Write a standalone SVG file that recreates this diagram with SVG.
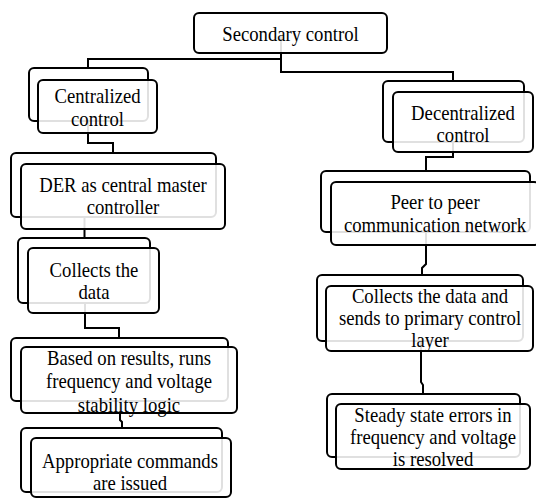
<svg xmlns="http://www.w3.org/2000/svg" width="536" height="499" viewBox="0 0 536 499">
<style>
.bk{fill:#fff;stroke:#000;stroke-width:2}
.fr{fill:#fff;fill-opacity:0.88;stroke:#000;stroke-width:2}
.c{fill:none;stroke:#000;stroke-width:2}
.t{font-family:'Liberation Serif','Times New Roman',serif;font-size:22px;fill:#000;text-anchor:middle}
</style>
<rect width="536" height="499" fill="#fff"/>
<g id="connectors">
<path class="c" d="M281,36 V72 H453 V96"/>
<path class="c" d="M281,59 H88 V80"/>
<path class="c" d="M88,120 V143 H113 V165"/>
<path class="c" d="M84.5,216 V250"/>
<path class="c" d="M85,300 V328 H119 V350"/>
<path class="c" d="M120,400 V420 L122,422 V440"/>
<path class="c" d="M453,138 V157 H426 V183"/>
<path class="c" d="M426,232 V264 L422,268 V288"/>
<path class="c" d="M421,340 V382 L423,385 V406"/>
</g>
<g id="secondary">
<rect class="fr" x="194" y="13" width="193" height="40" rx="5"/>
<text class="t" transform="translate(290.5,41) scale(0.85,1)">Secondary control</text>
</g>
<g id="centralized">
<rect class="bk" x="29" y="68" width="119" height="53" rx="5"/>
<rect class="fr" x="38" y="80" width="119" height="53" rx="5"/>
<text class="t" transform="translate(97.5,103) scale(0.85,1)"><tspan x="0">Centralized</tspan><tspan x="0" dy="23">control</tspan></text>
</g>
<g id="decentralized">
<rect class="bk" x="383" y="81" width="141" height="61" rx="5"/>
<rect class="fr" x="393" y="92" width="140" height="60" rx="5"/>
<text class="t" transform="translate(463,120) scale(0.85,1)"><tspan x="0">Decentralized</tspan><tspan x="0" dy="22">control</tspan></text>
</g>
<g id="der">
<rect class="bk" x="11" y="153" width="205" height="64" rx="5"/>
<rect class="fr" x="21" y="164" width="204" height="65" rx="5"/>
<text class="t" transform="translate(123,192) scale(0.85,1)"><tspan x="0">DER as central master</tspan><tspan x="0" dy="22">controller</tspan></text>
</g>
<g id="collects-left">
<rect class="bk" x="18" y="238" width="132" height="65" rx="5"/>
<rect class="fr" x="28" y="248" width="131" height="65" rx="5"/>
<text class="t" transform="translate(94,277) scale(0.85,1)"><tspan x="0">Collects the</tspan><tspan x="0" dy="22">data</tspan></text>
</g>
<g id="based">
<rect class="bk" x="11" y="338" width="217" height="63" rx="5"/>
<rect class="fr" x="21" y="347" width="216" height="66" rx="5"/>
<text class="t" transform="translate(129,365) scale(0.85,1)"><tspan x="0">Based on results, runs</tspan><tspan x="0" dy="23.5">frequency and voltage</tspan><tspan x="0" dy="23.5">stability logic</tspan></text>
</g>
<g id="appropriate">
<rect class="bk" x="21" y="428" width="201" height="64" rx="5"/>
<rect class="fr" x="31" y="438" width="200" height="59" rx="5"/>
<text class="t" transform="translate(130,468) scale(0.85,1)"><tspan x="0">Appropriate commands</tspan><tspan x="0" dy="22">are issued</tspan></text>
</g>
<g id="peer">
<rect class="bk" x="321" y="171" width="209" height="61" rx="5"/>
<rect class="fr" x="331" y="182" width="208" height="63" rx="5"/>
<text class="t" transform="translate(435,209) scale(0.85,1)"><tspan x="0">Peer to peer</tspan><tspan x="0" dy="23">communication  network</tspan></text>
</g>
<g id="collects-right">
<rect class="bk" x="317" y="275" width="206" height="66" rx="5"/>
<rect class="fr" x="326" y="286" width="207" height="65" rx="5"/>
<text class="t" transform="translate(430,303) scale(0.85,1)"><tspan x="0">Collects the data and</tspan><tspan x="0" dy="22">sends to primary control</tspan><tspan x="0" dy="22">layer</tspan></text>
</g>
<g id="steady">
<rect class="bk" x="327" y="394" width="193" height="63" rx="5"/>
<rect class="fr" x="336" y="404" width="194" height="65" rx="5"/>
<text class="t" transform="translate(433,422) scale(0.85,1)"><tspan x="0">Steady state errors in</tspan><tspan x="0" dy="22">frequency and voltage</tspan><tspan x="0" dy="22">is resolved</tspan></text>
</g>
</svg>
